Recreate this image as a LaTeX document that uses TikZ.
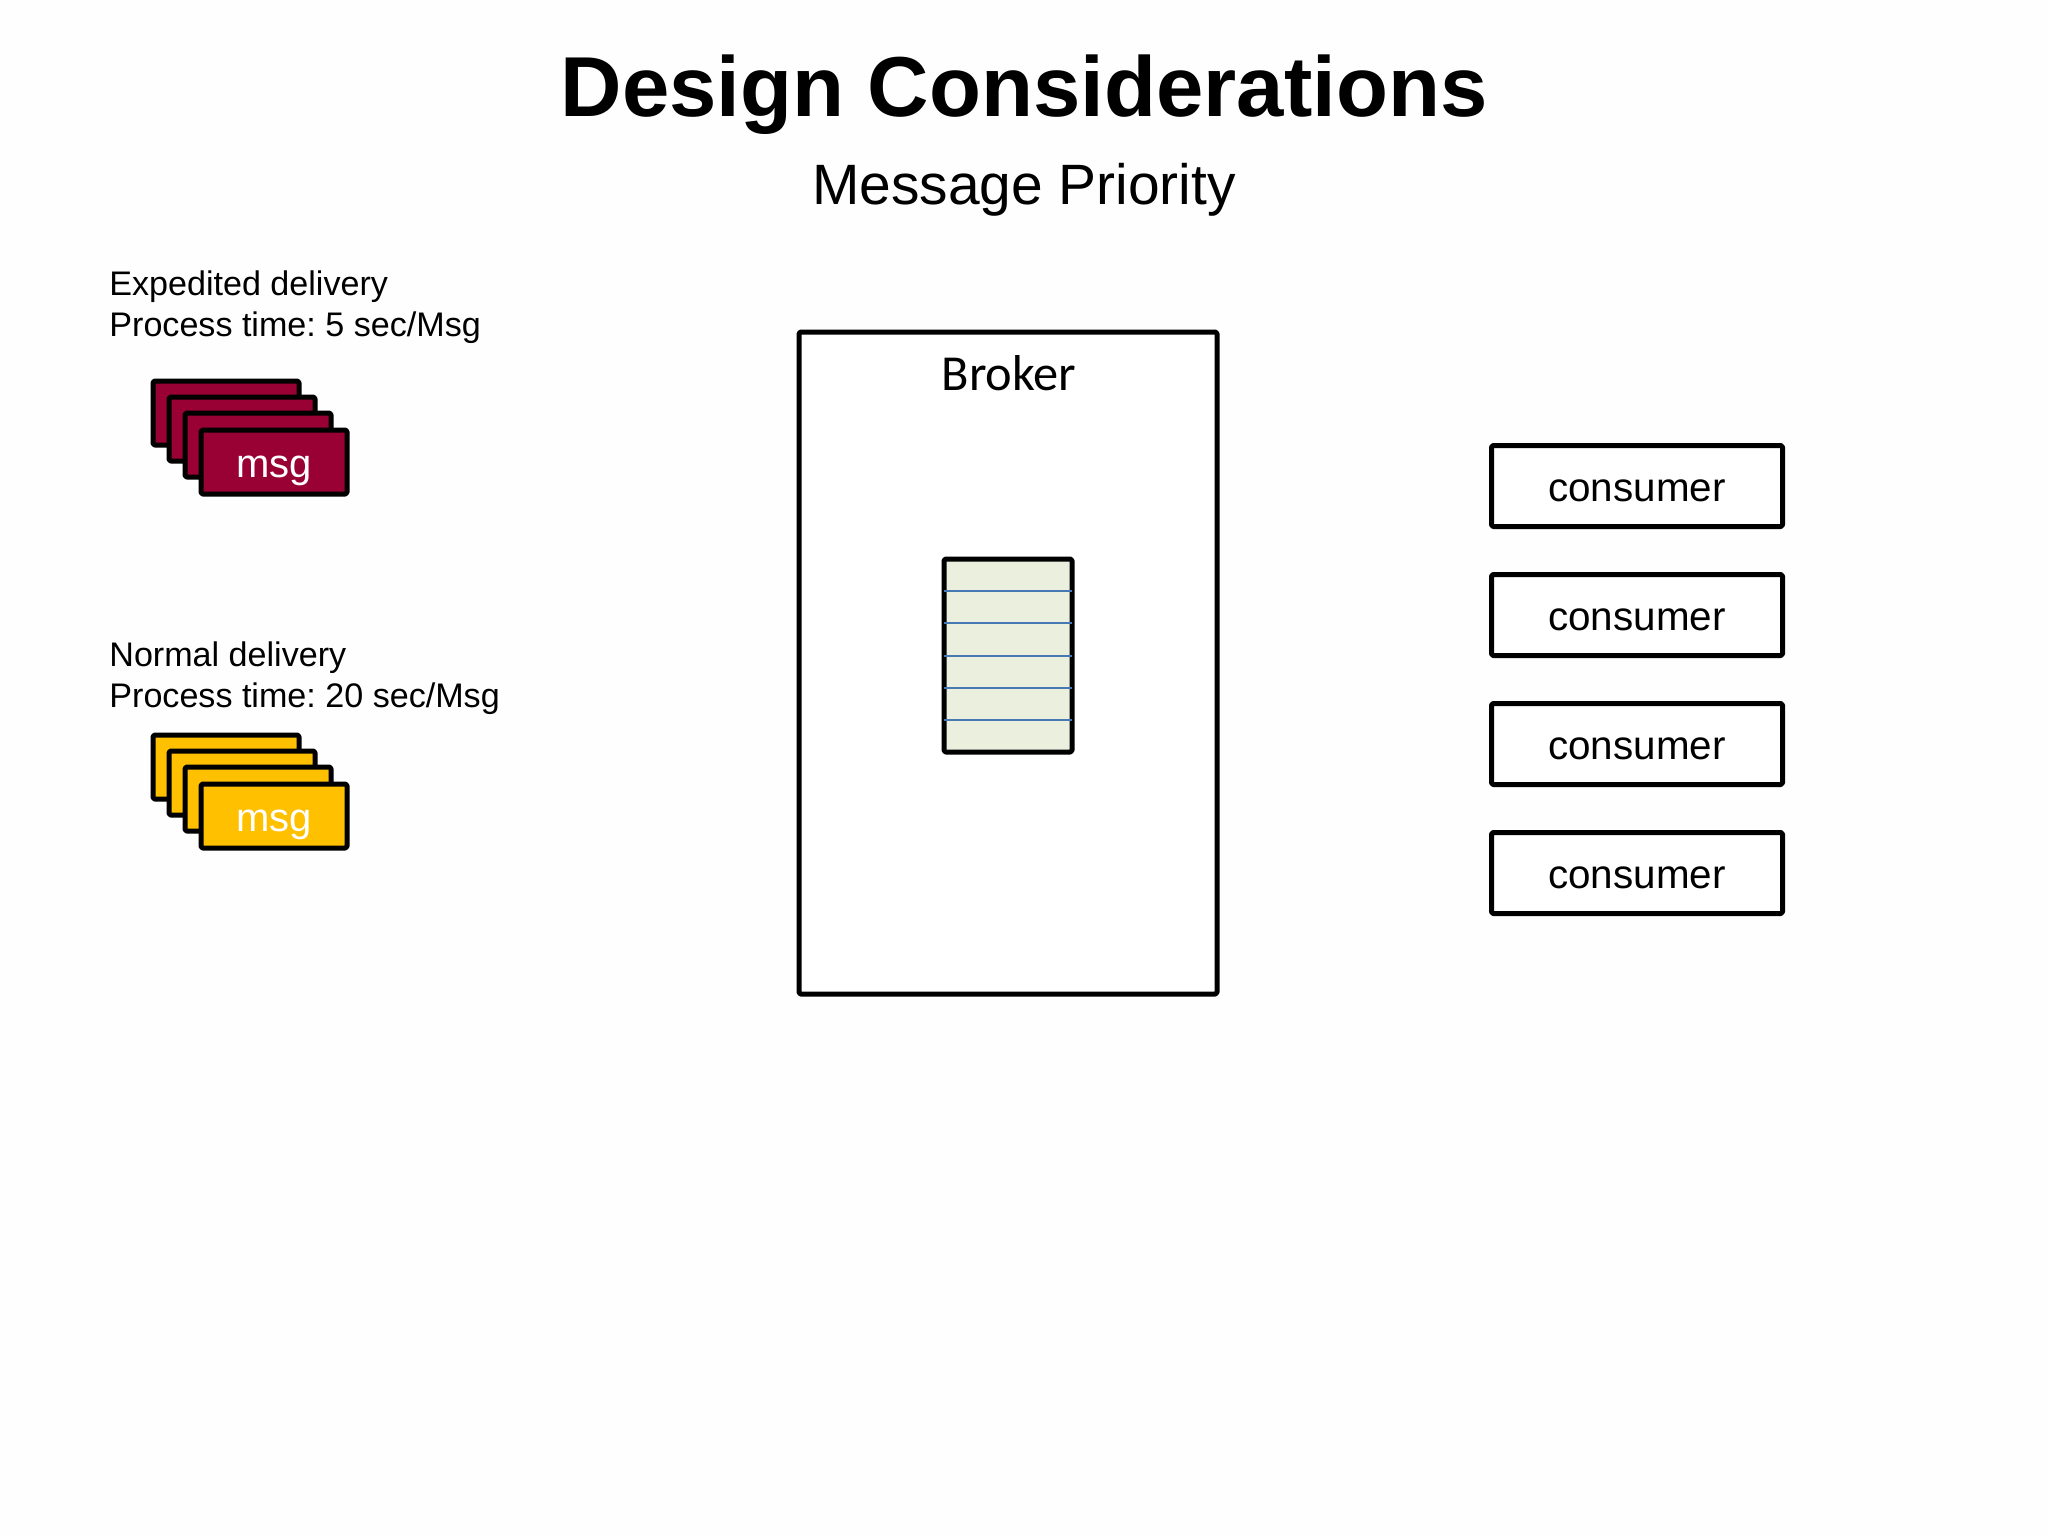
\documentclass[tikz,border=0pt]{standalone}
\usepackage{fontspec}
\usetikzlibrary{calc}
\setmainfont{Liberation Sans}
\newfontfamily\brokerfont{Carlito}
\definecolor{expedited}{RGB}{153,0,51}
\definecolor{normaldel}{RGB}{255,192,0}
\definecolor{queuefill}{RGB}{235,240,222}
\definecolor{queueline}{RGB}{70,120,180}
\definecolor{pagebg}{RGB}{254,254,254}
\tikzset{
  x=0.5pt,y=-0.5pt,
  box/.style={draw=black,line width=2.5pt,rounded corners=0.8pt,line join=round,inner sep=0pt,outer sep=0pt},
  consumerbox/.style={box,fill=white,minimum width=145.5pt,minimum height=40.5pt,text height=15pt,text depth=0pt,font=\fontsize{20.2}{20.2}\selectfont},
  msgbox/.style={box,minimum width=73pt,minimum height=32pt,text=white,text height=15pt,text depth=0pt,font=\fontsize{20}{20}\selectfont},
  desc/.style={anchor=base west,inner sep=0pt,font=\fontsize{17.05}{17.05}\selectfont},
  qline/.style={draw=queueline,line width=1pt},
}
\begin{document}
\frenchspacing
\begin{tikzpicture}
\useasboundingbox[fill=pagebg] (0,0) rectangle (2048,1536);
\node[anchor=base,inner sep=0pt,font=\fontsize{42.55}{42.55}\selectfont\bfseries] (title) at (1024,117) {Design Considerations};
\node[anchor=base,inner sep=0pt,font=\fontsize{28.45}{28.45}\selectfont] (subtitle) at (1024,204) {Message Priority};
\node[desc] (exp1) at (109,295) {Expedited delivery};
\node[desc] (exp2) at (109,336) {Process time: 5 sec/Msg};
\node[desc] (nor1) at (109,666) {Normal delivery};
\node[desc] (nor2) at (109,707) {Process time: 20 sec/Msg};
% expedited stack
\node[msgbox,fill=expedited] (r1) at (226,413) {};
\node[msgbox,fill=expedited] (r2) at (242,429) {};
\node[msgbox,fill=expedited] (r3) at (258,445) {};
\node[msgbox,fill=expedited] (r4) at (274,462) {msg};
% normal stack
\node[msgbox,fill=normaldel] (y1) at (226,767) {};
\node[msgbox,fill=normaldel] (y2) at (242,783) {};
\node[msgbox,fill=normaldel] (y3) at (258,799) {};
\node[msgbox,fill=normaldel] (y4) at (274,816) {msg};
% broker
\node[box,fill=white,minimum width=209pt,minimum height=331pt] (broker) at (1008,663) {};
\node[anchor=base,inner sep=0pt,font=\brokerfont\fontsize{25.2}{25.2}\selectfont] (brokerlabel) at (1009,390) {Broker};
% queue
\node[box,fill=queuefill,minimum width=64pt,minimum height=96.5pt] (queue) at (1008,655.5) {};
\foreach \i/\f in {1/0.1667,2/0.3333,3/0.5,4/0.6667,5/0.8333}{
  \draw[qline] ($(queue.north west)!\f!(queue.south west)$) -- ($(queue.north east)!\f!(queue.south east)$);
}
% consumers
\node[consumerbox] (c1) at (1637,486) {consumer};
\node[consumerbox] (c2) at (1637,615) {consumer};
\node[consumerbox] (c3) at (1637,744) {consumer};
\node[consumerbox] (c4) at (1637,873) {consumer};
\end{tikzpicture}
\end{document}
